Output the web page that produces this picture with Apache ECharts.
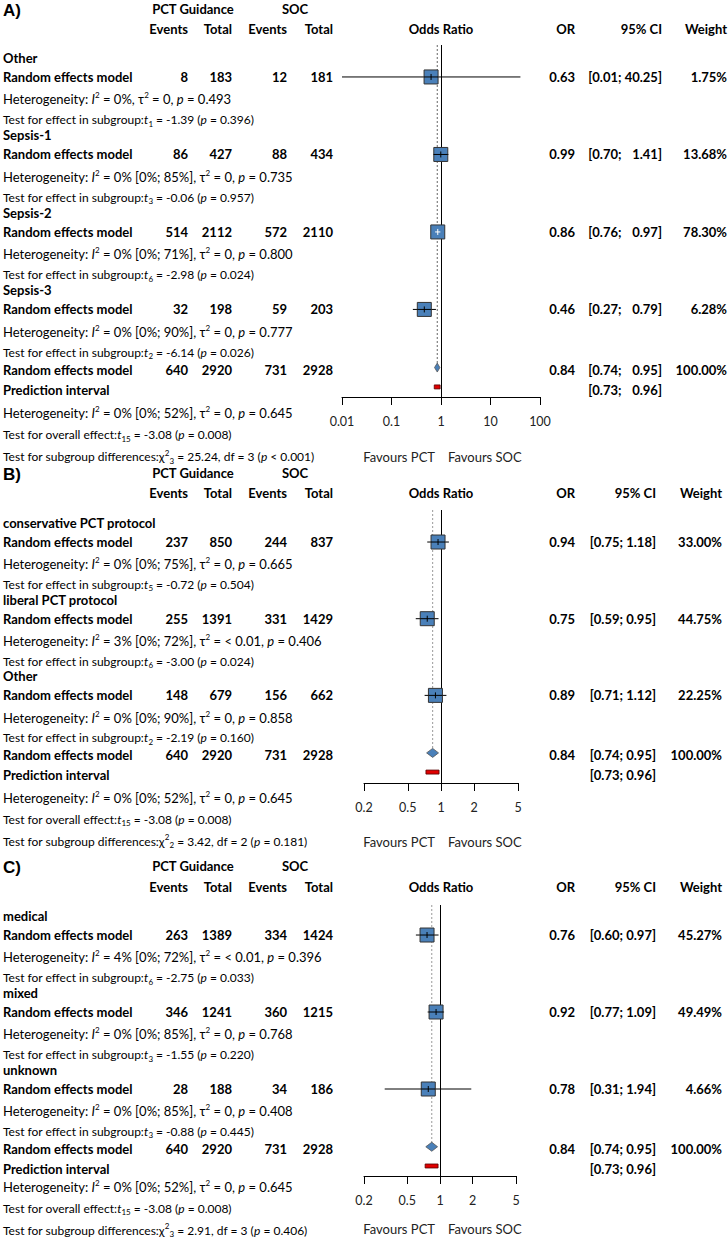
<!DOCTYPE html>
<html>
<head>
<meta charset="utf-8">
<script src="https://cdn.jsdelivr.net/npm/echarts@6/dist/echarts.min.js"></script>
<style>html,body{margin:0;padding:0;background:#fff}#c{width:728px;height:1240px}</style>
</head>
<body>
<div id="c"></div>
<script>
// ---------------- DATA ----------------
// overall results (same in the three panels)
const overallCounts = [640, 2920, 731, 2928];
const overallOR = [0.84, 0.74, 0.95];          // estimate, lower, upper
const overallWeight = 100.00;
const predInterval = [0.73, 0.96];
const overallHet = ['0% [0%; 52%]', '0', '0.645']; // I2, tau2, p
const overallTest = ['15', '-3.08', '0.008'];      // df, t, p

// Panel A
const aGroups = ['Other', 'Sepsis-1', 'Sepsis-2', 'Sepsis-3'];
const aPctEvents = [8, 86, 514, 32];
const aPctTotal = [183, 427, 2112, 198];
const aSocEvents = [12, 88, 572, 59];
const aSocTotal = [181, 434, 2110, 203];
const aOR = [0.63, 0.99, 0.86, 0.46];
const aLower = [0.01, 0.70, 0.76, 0.27];
const aUpper = [40.25, 1.41, 0.97, 0.79];
const aWeight = [1.75, 13.68, 78.30, 6.28];
const aHetI2 = ['0%', '0% [0%; 85%]', '0% [0%; 71%]', '0% [0%; 90%]'];
const aHetTau2 = ['0', '0', '0', '0'];
const aHetP = ['0.493', '0.735', '0.800', '0.777'];
const aTestDf = ['1', '3', '6', '2'];
const aTestT = ['-1.39', '-0.06', '-2.98', '-6.14'];
const aTestP = ['0.396', '0.957', '0.024', '0.026'];
const aSubgroupDiff = ['3', '25.24', '3', '< 0.001']; // chi df, chi2, df, p
const aTicks = [0.01, 0.1, 1, 10, 100];

// Panel B
const bGroups = ['conservative PCT protocol', 'liberal PCT protocol', 'Other'];
const bPctEvents = [237, 255, 148];
const bPctTotal = [850, 1391, 679];
const bSocEvents = [244, 331, 156];
const bSocTotal = [837, 1429, 662];
const bOR = [0.94, 0.75, 0.89];
const bLower = [0.75, 0.59, 0.71];
const bUpper = [1.18, 0.95, 1.12];
const bWeight = [33.00, 44.75, 22.25];
const bHetI2 = ['0% [0%; 75%]', '3% [0%; 72%]', '0% [0%; 90%]'];
const bHetTau2 = ['0', '< 0.01', '0'];
const bHetP = ['0.665', '0.406', '0.858'];
const bTestDf = ['5', '6', '2'];
const bTestT = ['-0.72', '-3.00', '-2.19'];
const bTestP = ['0.504', '0.024', '0.160'];
const bSubgroupDiff = ['2', '3.42', '2', '= 0.181'];
const bTicks = [0.2, 0.5, 1, 2, 5];

// Panel C
const cGroups = ['medical', 'mixed', 'unknown'];
const cPctEvents = [263, 346, 28];
const cPctTotal = [1389, 1241, 188];
const cSocEvents = [334, 360, 34];
const cSocTotal = [1424, 1215, 186];
const cOR = [0.76, 0.92, 0.78];
const cLower = [0.60, 0.77, 0.31];
const cUpper = [0.97, 1.09, 1.94];
const cWeight = [45.27, 49.49, 4.66];
const cHetI2 = ['4% [0%; 72%]', '0% [0%; 85%]', '0% [0%; 85%]'];
const cHetTau2 = ['< 0.01', '0', '0'];
const cHetP = ['0.396', '0.768', '0.408'];
const cTestDf = ['6', '3', '3'];
const cTestT = ['-2.75', '-1.55', '-0.88'];
const cTestP = ['0.033', '0.220', '0.445'];
const cSubgroupDiff = ['3', '2.91', '3', '= 0.406'];
const cTicks = [0.2, 0.5, 1, 2, 5];

// ---------------- LAYOUT / STYLE ----------------
const FONT = 'Lato, "Noto Sans", "DejaVu Sans", sans-serif';
const ARIAL = '"Liberation Sans", Arial, sans-serif';
const BLUE = '#4a80b9';

const panels = [
  {letter: 'A)', groups: aGroups, pe: aPctEvents, pt: aPctTotal, se: aSocEvents, st: aSocTotal,
   or: aOR, lo: aLower, hi: aUpper, w: aWeight, hI2: aHetI2, hTau: aHetTau2, hP: aHetP,
   tDf: aTestDf, tT: aTestT, tP: aTestP, sub: aSubgroupDiff, ticks: aTicks,
   L: {headY: 9, colY: 29, left: 342, width: 198, top: 45, height: 352, yMin: -0.65, yMax: 17.52, ciRight: 662, wRight: 727, favY: 457, footShift: 0}},
  {letter: 'B)', groups: bGroups, pe: bPctEvents, pt: bPctTotal, se: bSocEvents, st: bSocTotal,
   or: bOR, lo: bLower, hi: bUpper, w: bWeight, hI2: bHetI2, hTau: bHetTau2, hP: bHetP,
   tDf: bTestDf, tT: bTestT, tP: bTestP, sub: bSubgroupDiff, ticks: bTicks,
   L: {headY: 473, colY: 493, left: 364, width: 154, top: 510, height: 273, yMin: -0.67, yMax: 13.57, ciRight: 656, wRight: 722, favY: 842, footShift: 0}},
  {letter: 'C)', groups: cGroups, pe: cPctEvents, pt: cPctTotal, se: cSocEvents, st: cSocTotal,
   or: cOR, lo: cLower, hi: cUpper, w: cWeight, hI2: cHetI2, hTau: cHetTau2, hP: cHetP,
   tDf: cTestDf, tT: cTestT, tP: cTestP, sub: cSubgroupDiff, ticks: cTicks,
   L: {headY: 866, colY: 887, left: 364, width: 152, top: 905, height: 271, yMin: -0.56, yMax: 13.52, ciRight: 656, wRight: 722, favY: 1229, footShift: -5}}
];

function richFor(size) {
  return {
    i: {fontStyle: 'italic', fontSize: size, fontFamily: FONT, lineHeight: 16, fill: '#000'},
    sup: {fontSize: 8, fontFamily: FONT, verticalAlign: 'top', fill: '#000'},
    sub: {fontSize: 8, fontFamily: FONT, verticalAlign: 'bottom', fill: '#000'}
  };
}

function ciText(lo, hi, width) {
  let h = hi.toFixed(2);
  while (h.length < width) h = '\u2007' + h;
  return '[' + lo.toFixed(2) + '; ' + h + ']';
}

function buildRows(p) {
  const rows = [];
  p.groups.forEach((g, k) => {
    rows.push({kind: 'label', k});
    rows.push({kind: 'model', k});
    rows.push({kind: 'het', k});
    rows.push({kind: 'test', k});
  });
  ['overall', 'pred', 'hetAll', 'testAll', 'subDiff'].forEach(kind => rows.push({kind}));
  rows.forEach((r, i) => { r.idx = i; });
  return rows;
}

const OFFSETS = {label: 0, model: 0, het: 3, test: 4, overall: 2, pred: 3, hetAll: 6.5, testAll: 9, subDiff: 11.5};
const FOOTER = {hetAll: true, testAll: true, subDiff: true};

function rowCells(p, r) {
  const L = p.L;
  const uppers = p.hi.concat([overallOR[2], predInterval[1]]).map(v => v.toFixed(2).length);
  const ciW = Math.max.apply(null, uppers);
  const bold = (x, text, align) => ({x, text: String(text), align, bold: true});
  const norm = (text, size) => ({x: 3, text, align: 'left', bold: false, rich: true, size});
  const k = r.k;
  switch (r.kind) {
    case 'label': return [bold(3, p.groups[k], 'left')];
    case 'model': return [bold(3, 'Random effects model', 'left'), bold(188, p.pe[k], 'right'), bold(232, p.pt[k], 'right'),
      bold(287, p.se[k], 'right'), bold(333, p.st[k], 'right'), bold(575, p.or[k].toFixed(2), 'right'),
      bold(L.ciRight, ciText(p.lo[k], p.hi[k], ciW), 'right'), bold(L.wRight, p.w[k].toFixed(2) + '%', 'right')];
    case 'het': return [norm('Heterogeneity: {i|I}{sup|2} = ' + p.hI2[k] + ', \u03c4{sup|2} = ' + p.hTau[k] + ', {i|p} = ' + p.hP[k], 13)];
    case 'test': return [norm('Test for effect in subgroup:{i|t}{sub|' + p.tDf[k] + '} = ' + p.tT[k] + ' ({i|p} = ' + p.tP[k] + ')', 12)];
    case 'overall': return [bold(3, 'Random effects model', 'left'), bold(188, overallCounts[0], 'right'), bold(232, overallCounts[1], 'right'),
      bold(287, overallCounts[2], 'right'), bold(333, overallCounts[3], 'right'), bold(575, overallOR[0].toFixed(2), 'right'),
      bold(L.ciRight, ciText(overallOR[1], overallOR[2], ciW), 'right'), bold(L.wRight, overallWeight.toFixed(2) + '%', 'right')];
    case 'pred': return [bold(3, 'Prediction interval', 'left'), bold(L.ciRight, ciText(predInterval[0], predInterval[1], ciW), 'right')];
    case 'hetAll': return [norm('Heterogeneity: {i|I}{sup|2} = ' + overallHet[0] + ', \u03c4{sup|2} = ' + overallHet[1] + ', {i|p} = ' + overallHet[2], 13)];
    case 'testAll': return [norm('Test for overall effect:{i|t}{sub|' + overallTest[0] + '} = ' + overallTest[1] + ' ({i|p} = ' + overallTest[2] + ')', 12)];
    case 'subDiff': return [norm('Test for subgroup differences:\u03c7{sup|2}{sub|' + p.sub[0] + '} = ' + p.sub[1] + ', df = ' + p.sub[2] + ' ({i|p} ' + p.sub[3] + ')', 12)];
  }
  return [];
}

function textRenderer(p, rows) {
  return function (params, api) {
    const r = rows[params.dataIndex];
    const y = api.coord([1, r.idx])[1] + OFFSETS[r.kind] + (FOOTER[r.kind] ? p.L.footShift : 0);
    const children = rowCells(p, r).map(c => ({
      type: 'text', x: c.x, y: y,
      style: {
        text: c.text, align: c.align, verticalAlign: 'middle', fill: '#000',
        fontFamily: FONT, fontSize: c.bold ? 13 : c.size, fontWeight: c.bold ? 'bold' : 'normal',
        lineHeight: 16, rich: c.rich ? richFor(c.size) : undefined
      }
    }));
    return {type: 'group', children};
  };
}

function renderSquare(params, api) {
  const est = api.value(0), lo = api.value(1), hi = api.value(2), row = api.value(3);
  const c = api.coord([est, row]);
  const l = api.coord([lo, row]);
  const h = api.coord([hi, row]);
  const s = 14, half = s / 2;
  const inside = l[0] >= c[0] - half && h[0] <= c[0] + half;
  const cross = inside ? '#ffffff' : '#000000';
  return {type: 'group', children: [
    {type: 'line', shape: {x1: l[0], y1: c[1], x2: h[0], y2: c[1]}, style: {stroke: '#000', lineWidth: 1}},
    {type: 'rect', shape: {x: c[0] - half, y: c[1] - half, width: s, height: s}, style: {fill: BLUE, stroke: '#333', lineWidth: 1}},
    {type: 'line', shape: {x1: Math.max(l[0], c[0] - half), y1: c[1], x2: Math.min(h[0], c[0] + half), y2: c[1]}, style: {stroke: cross, lineWidth: 1}},
    {type: 'line', shape: {x1: c[0], y1: c[1] - 3, x2: c[0], y2: c[1] + 3}, style: {stroke: cross, lineWidth: 1}}
  ]};
}

function renderDiamond(params, api) {
  const est = api.value(0), lo = api.value(1), hi = api.value(2), row = api.value(3);
  const c = api.coord([est, row]), l = api.coord([lo, row]), h = api.coord([hi, row]);
  const hh = 4.5;
  return {type: 'polygon', shape: {points: [[l[0], c[1]], [c[0], c[1] - hh], [h[0], c[1]], [c[0], c[1] + hh]]},
    style: {fill: BLUE, stroke: '#555', lineWidth: 0.8}};
}

function renderPred(params, api) {
  const lo = api.value(0), hi = api.value(1), row = api.value(2);
  const l = api.coord([lo, row]), h = api.coord([hi, row]);
  return {type: 'rect', shape: {x: l[0], y: l[1] - 2, width: h[0] - l[0], height: 4},
    style: {fill: '#e00000', stroke: '#500', lineWidth: 0.8}};
}

const grids = [], xAxes = [], yAxes = [], series = [], graphics = [];

function gText(x, y, text, align, opts) {
  graphics.push({type: 'text', x, y, silent: true,
    style: Object.assign({text, align, verticalAlign: 'middle', fill: '#000', fontFamily: FONT, fontSize: 13, fontWeight: 'bold'}, opts || {})});
}

panels.forEach((p, gi) => {
  const L = p.L;
  const rows = buildRows(p);
  const modelIdx = rows.filter(r => r.kind === 'model').map(r => r.idx);
  const overallIdx = rows.find(r => r.kind === 'overall').idx;
  const predIdx = rows.find(r => r.kind === 'pred').idx;

  grids.push({left: L.left, top: L.top, width: L.width, height: L.height, containLabel: false});
  xAxes.push({
    type: 'log', logBase: 10, gridIndex: gi, min: p.ticks[0], max: p.ticks[p.ticks.length - 1],
    axisLine: {show: true, onZero: false, lineStyle: {color: '#000', width: 1}},
    axisTick: {show: true, length: 8, customValues: p.ticks, lineStyle: {color: '#000'}},
    axisLabel: {show: true, customValues: p.ticks, margin: 18, color: '#222', fontSize: 12.5, fontFamily: FONT,
      formatter: v => String(+Number(v).toPrecision(4))},
    splitLine: {show: false}
  });
  yAxes.push({type: 'value', gridIndex: gi, inverse: true, min: L.yMin, max: L.yMax, show: false,
    splitLine: {show: false}});

  // reference line at the pooled estimate + line of no effect
  series.push({
    type: 'line', xAxisIndex: gi, yAxisIndex: gi, silent: true, showSymbol: false, symbol: 'none',
    data: [[overallOR[0], L.yMin], [overallOR[0], overallIdx]],
    lineStyle: {color: gi === 0 ? '#666' : '#999', width: 1, type: [2, 2]},
    markLine: {silent: true, symbol: ['none', 'none'], label: {show: false},
      lineStyle: {color: '#000', width: 1, type: 'solid'}, data: [{xAxis: 1}]},
    z: 2
  });
  series.push({
    type: 'custom', xAxisIndex: gi, yAxisIndex: gi, silent: true, clip: false, z: 5,
    data: p.groups.map((g, k) => [p.or[k], p.lo[k], p.hi[k], modelIdx[k]]),
    encode: {x: 0, y: 3}, renderItem: renderSquare
  });
  series.push({
    type: 'custom', xAxisIndex: gi, yAxisIndex: gi, silent: true, clip: false, z: 5,
    data: [[overallOR[0], overallOR[1], overallOR[2], overallIdx]],
    encode: {x: 0, y: 3}, renderItem: renderDiamond
  });
  series.push({
    type: 'custom', xAxisIndex: gi, yAxisIndex: gi, silent: true, clip: false, z: 5,
    data: [[predInterval[0], predInterval[1], predIdx]],
    encode: {x: 0, y: 2}, renderItem: renderPred
  });
  series.push({
    type: 'custom', xAxisIndex: gi, yAxisIndex: gi, silent: true, clip: false, z: 6,
    data: rows.map(r => [1, r.idx]),
    encode: {x: 0, y: 1}, renderItem: textRenderer(p, rows)
  });

  // headers
  gText(3, L.headY + 1, p.letter, 'left', {fontFamily: ARIAL, fontSize: 17});
  gText(193, L.headY, 'PCT Guidance', 'center');
  gText(295, L.headY, 'SOC', 'center');
  gText(188, L.colY, 'Events', 'right');
  gText(232, L.colY, 'Total', 'right');
  gText(287, L.colY, 'Events', 'right');
  gText(333, L.colY, 'Total', 'right');
  gText(441, L.colY, 'Odds Ratio', 'center');
  gText(575, L.colY, 'OR', 'right');
  gText(L.ciRight, L.colY, '95% CI', 'right');
  gText(L.wRight, L.colY, 'Weight', 'right');
  gText(435, L.favY, 'Favours PCT', 'right', {fontWeight: 'normal', fontSize: 13, fill: '#222'});
  gText(448, L.favY, 'Favours SOC', 'left', {fontWeight: 'normal', fontSize: 13, fill: '#222'});
});

const chart = echarts.init(document.getElementById('c'), null, {renderer: 'svg', width: 728, height: 1240});
chart.setOption({
  animation: false,
  backgroundColor: '#fff',
  grid: grids,
  xAxis: xAxes,
  yAxis: yAxes,
  series: series,
  graphic: graphics
});
</script>
</body>
</html>
